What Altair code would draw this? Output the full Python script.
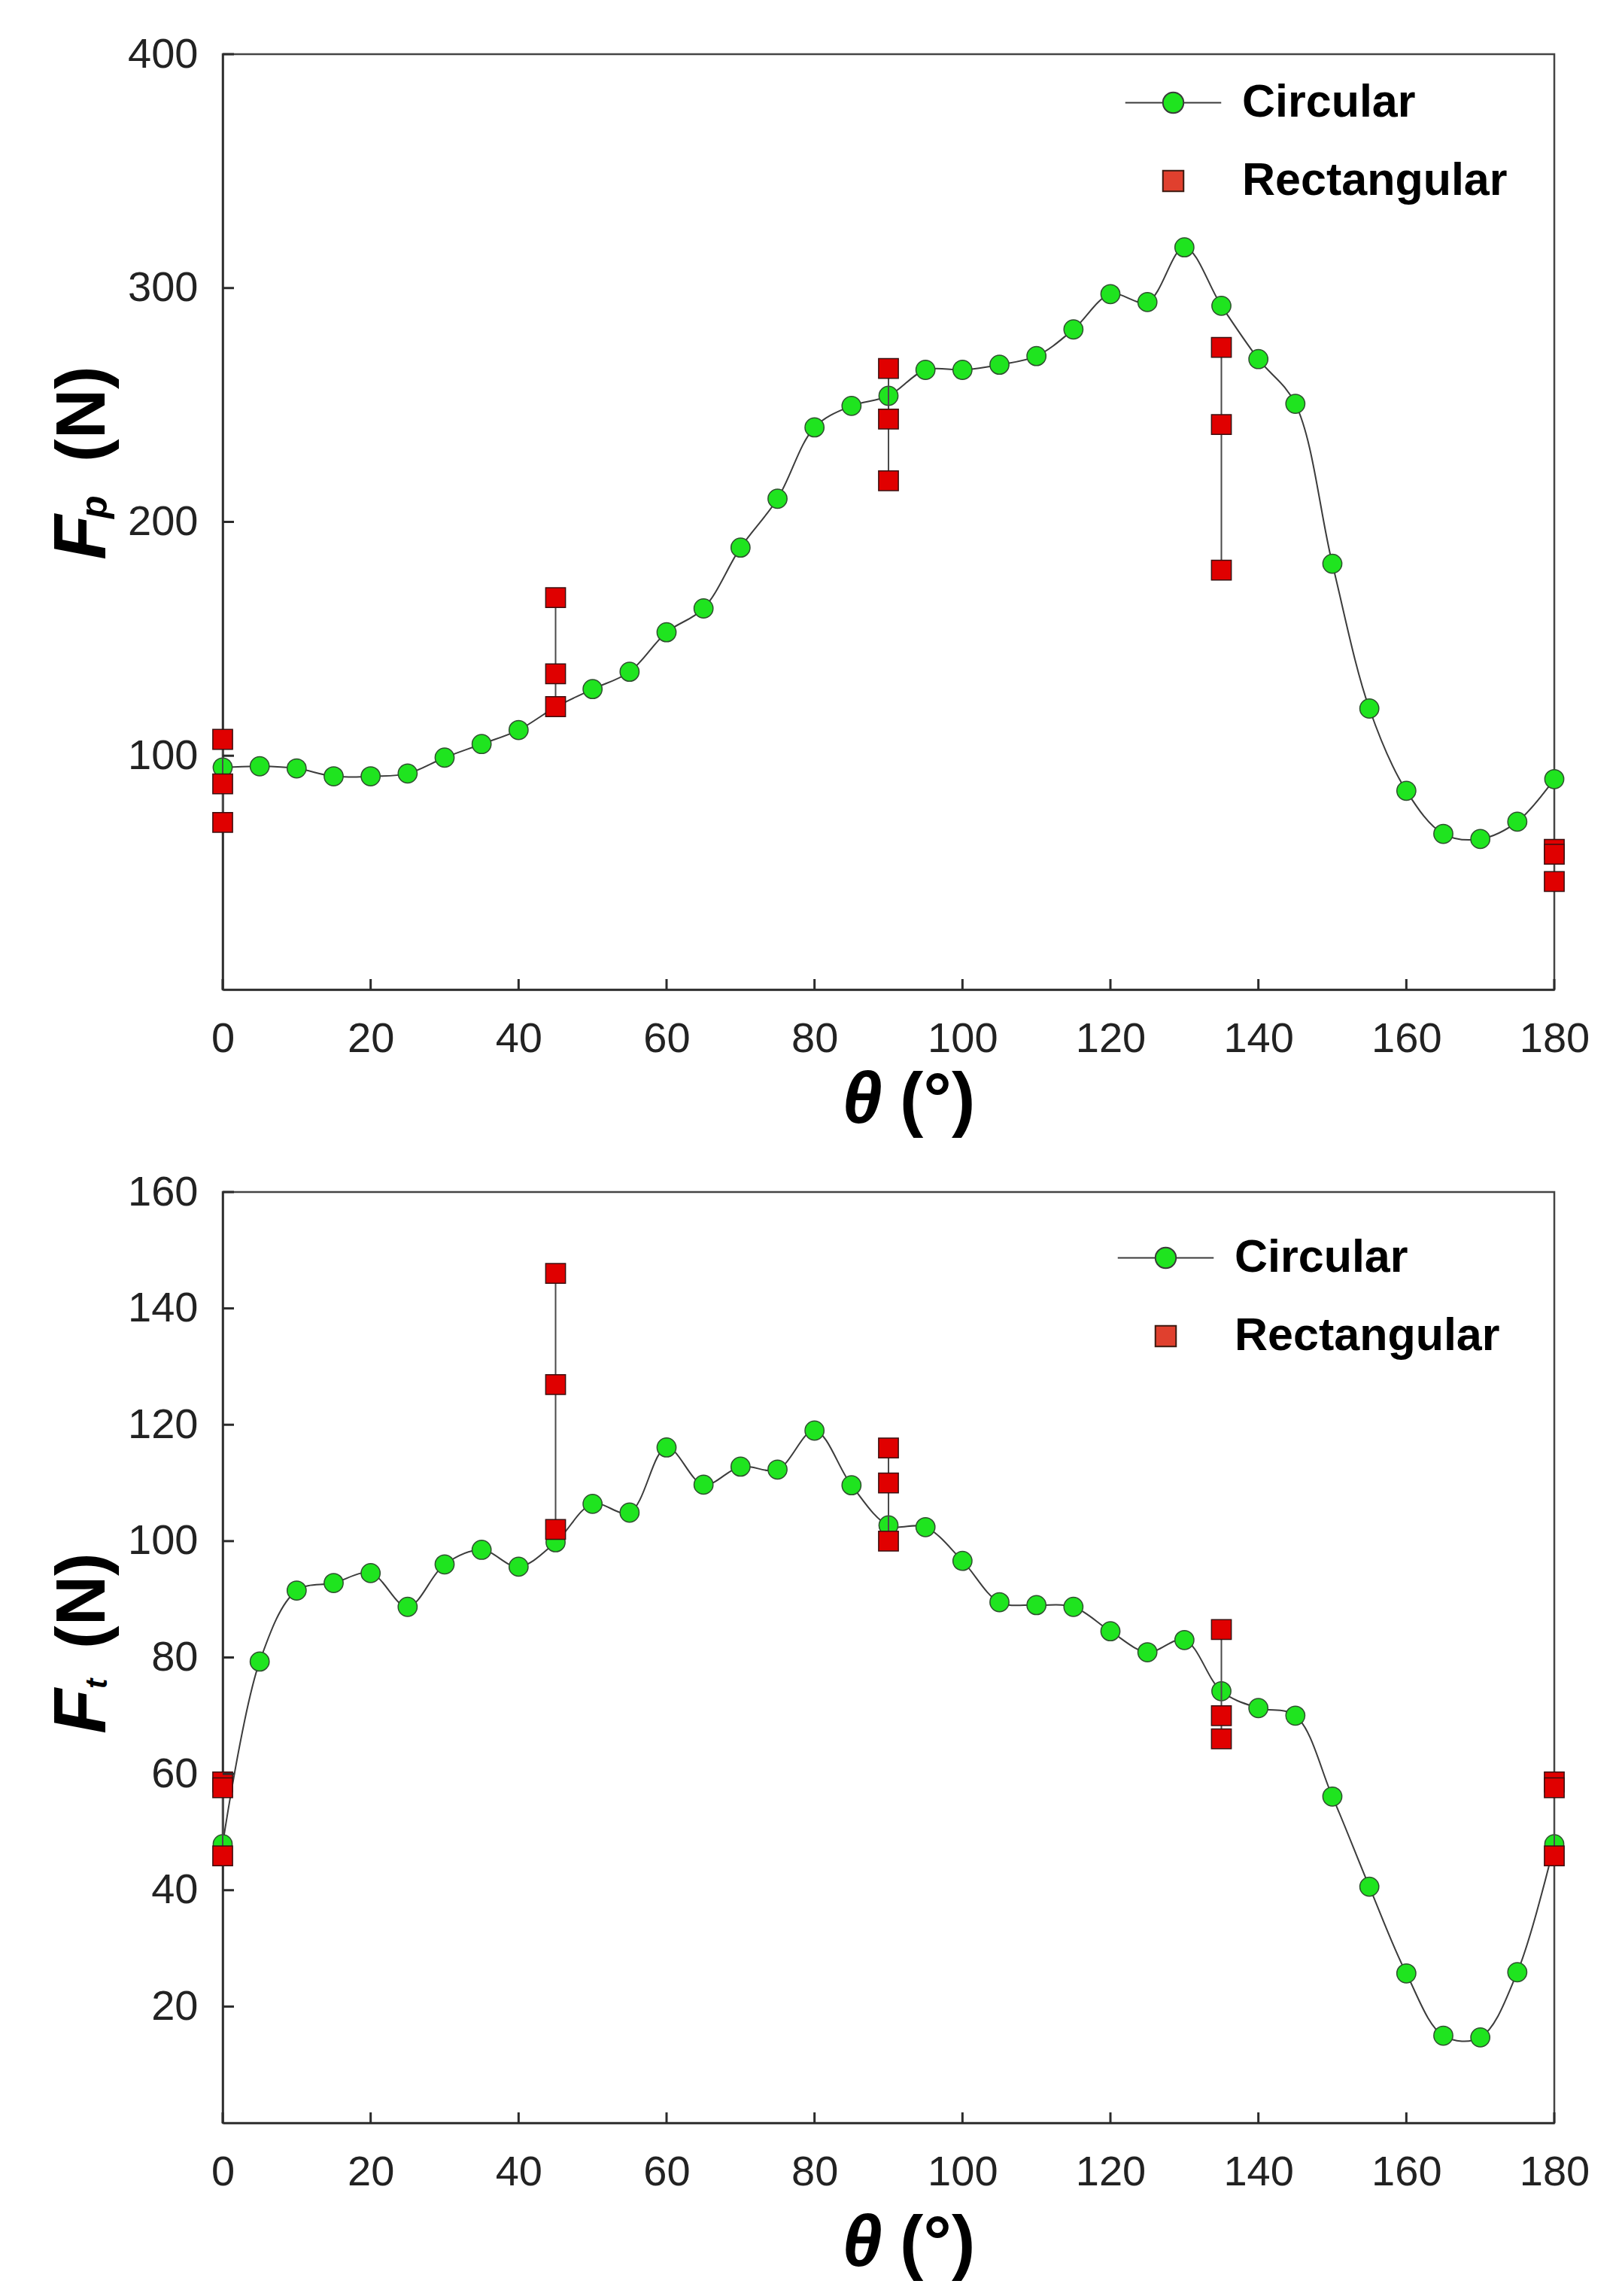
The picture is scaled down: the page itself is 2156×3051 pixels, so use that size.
import altair as alt
import pandas as pd

# Angles (degrees) at which the circular tool was measured
theta = list(range(0, 181, 5))

# Principal force Fp (N), circular
fp_circular = [95, 95.5, 94.6, 91.2, 91.2, 92.4, 99.2, 105, 111, 120.8, 128.5, 135.9, 152.8, 163,
               189, 209.9, 240.4, 249.6, 253.9, 265, 265, 267.2, 270.9, 282.3, 297.4, 294, 317.4,
               292.4, 269.6, 250.5, 182.1, 120.2, 85, 66.6, 64.4, 71.8, 90]

# Thrust force Ft (N), circular
ft_circular = [47.9, 79.3, 91.5, 92.8, 94.5, 88.7, 96, 98.5, 95.6, 99.8, 106.4, 104.9, 116.1, 109.7,
               112.8, 112.3, 119, 109.6, 102.7, 102.4, 96.6, 89.5, 89, 88.7, 84.5, 80.9, 83,
               74.2, 71.3, 70, 56.1, 40.6, 25.7, 15, 14.7, 25.9, 47.9]

# Rectangular tool: three readings at each of five angles
rect_theta = [0, 45, 90, 135, 180]
fp_rect = [[107, 88, 71.5], [167.6, 135, 121], [265.6, 244, 217.6], [274.6, 241.6, 179.4], [60, 57.9, 46.2]]
ft_rect = [[58.6, 57.6, 45.9], [146, 126.9, 102], [116, 110, 100], [84.8, 70, 66], [58.6, 57.6, 45.9]]

x_ticks = list(range(0, 181, 20))
fp_ticks = [100, 200, 300, 400]
ft_ticks = [20, 40, 60, 80, 100, 120, 140, 160]

series = ["Circular", "Rectangular"]

FONT = "Liberation Sans"
GREEN = "#1fe41f"
RED = "#e00000"
DARK = "#2b2b2b"
PANEL_W = 1770

# legend symbols: a line with a circle for Circular, a plain square for Rectangular
CIRCLE_PATH = ("M-2.55,0L-0.55,0M0.55,0L2.55,0"
               "M-0.55,0A0.55,0.55 0 1 1 0.55,0A0.55,0.55 0 1 1 -0.55,0Z")
SQUARE_PATH = "M-0.55,-0.55L0.55,-0.55L0.55,0.55L-0.55,0.55Z"


def _text(txt, x, y, size, italic=False, angle=0, align="left"):
    params = dict(font=FONT, fontSize=size, fontWeight="bold", color="#000",
                  align=align, baseline="alphabetic")
    if italic:
        params["fontStyle"] = "italic"
    if angle:
        params["angle"] = angle
    return alt.Chart(pd.DataFrame({"label": [txt]})).mark_text(**params).encode(
        text="label:N", x=alt.value(x), y=alt.value(y))


def _panel(circ, rect, y_max, y_ticks, h, sub, legend_xy, xt_y, yt):
    circ_df = pd.DataFrame({"theta": theta, "force": circ})
    rect_df = pd.DataFrame([{"theta": t, "force": v} for t, vals in zip(rect_theta, rect) for v in vals])
    span_df = pd.DataFrame({"theta": rect_theta,
                            "lo": [min(v) for v in rect],
                            "hi": [max(v) for v in rect]})
    key_df = pd.DataFrame({"theta": [0, 0], "force": [0, 0], "series": series})

    x = alt.X("theta:Q", scale=alt.Scale(domain=[0, 180], nice=False, zero=False),
              axis=alt.Axis(values=x_ticks, title=None, labelPadding=38))
    y = alt.Y("force:Q", scale=alt.Scale(domain=[0, y_max], nice=False),
              axis=alt.Axis(values=y_ticks, title=None, labelPadding=33))

    legend = alt.Legend(
        title=None, orient="none", legendX=legend_xy[0], legendY=legend_xy[1],
        symbolSize=2500, symbolStrokeWidth=2, symbolOpacity=1,
        labelFont=FONT, labelFontSize=61, labelFontWeight="bold", labelLimit=0,
        labelColor="#000", labelOffset=61, rowPadding=42, padding=0)

    line = alt.Chart(circ_df).mark_line(interpolate="catmull-rom", color="#3c3c3c",
                                        strokeWidth=2).encode(x=x, y=y)
    circles = alt.Chart(circ_df).mark_point(shape="circle", filled=True, size=640, opacity=1,
                                            fill=GREEN, stroke="#2f4f2f", strokeWidth=1.5).encode(x=x, y=y)
    spans = alt.Chart(span_df).mark_rule(color="#4a4a4a", strokeWidth=2).encode(
        x=x, y="lo:Q", y2="hi:Q")
    squares = alt.Chart(rect_df).mark_point(shape="square", filled=True, size=690, opacity=1,
                                            fill=RED, stroke="#3a1010", strokeWidth=1.5).encode(x=x, y=y)

    # zero-size layer that only carries the legend
    key = alt.Chart(key_df).mark_point(size=0, opacity=1, strokeWidth=2).encode(
        x=x, y=y,
        fill=alt.Fill("series:N", scale=alt.Scale(domain=series, range=[GREEN, "#e0402e"]), legend=legend),
        stroke=alt.Stroke("series:N", scale=alt.Scale(domain=series, range=["#3a3a3a", "#3a1a10"]),
                          legend=legend),
        shape=alt.Shape("series:N", scale=alt.Scale(domain=series, range=[CIRCLE_PATH, SQUARE_PATH]),
                        legend=legend))

    # inward tick marks
    xtick = alt.Chart(pd.DataFrame({"theta": x_ticks})).mark_rule(
        strokeWidth=3, color=DARK).encode(
        x=alt.X("theta:Q"), y=alt.value(h - 14), y2=alt.value(h))
    ytick = alt.Chart(pd.DataFrame({"force": y_ticks})).mark_rule(
        strokeWidth=3, color=DARK).encode(
        y=alt.Y("force:Q"), x=alt.value(0), x2=alt.value(15))

    # axis titles
    titles = [
        _text("θ", 850, xt_y, 96, italic=True, align="center"),
        _text("(°)", 900, xt_y, 94),
        _text("F", -156, yt[0], 98, italic=True, angle=270),
        _text(sub, -154, yt[1], yt[3], italic=True, angle=270),
        _text("(N)", -157, yt[2], 92, angle=270),
    ]

    return alt.layer(line, circles, spans, squares, key, xtick, ytick, *titles).properties(
        width=PANEL_W, height=h)


top = _panel(fp_circular, fp_rect, 400, fp_ticks, 1243, "p", (1233, 34), 1420, (672, 617, 542, 50))
bottom = _panel(ft_circular, ft_rect, 160, ft_ticks, 1237, "t", (1223, 57), 1427, (720, 660, 607, 40))

chart = alt.vconcat(top, bottom, spacing=41).resolve_scale(
    x="independent", y="independent", fill="independent", shape="independent", stroke="independent"
).resolve_legend(fill="independent", shape="independent", stroke="independent").properties(
    padding={"left": 52, "top": 34, "right": 5, "bottom": 5}, background="white"
).configure_view(stroke="#444", strokeWidth=2.5).configure_axis(
    labelFont=FONT, labelFontSize=56, labelColor="#222", domainColor=DARK, domainWidth=2.5,
    tickSize=0, grid=False, labelFlush=False, labelOverlap=False)

chart.save("out.html", embed_options={"renderer": "svg", "actions": False})
